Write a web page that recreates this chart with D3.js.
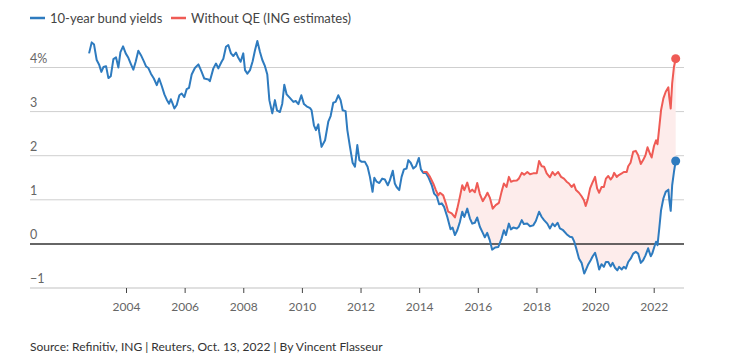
<!DOCTYPE html>
<html>
<head>
<meta charset="utf-8">
<script src="https://cdn.jsdelivr.net/npm/d3@7"></script>
<style>
  html, body { margin: 0; padding: 0; background: #fff; }
  #vizHolder { width: 734px; height: 362px; }
  text { font-family: Lato, "Noto Sans", sans-serif; }
</style>
</head>
<body>
<div id="vizHolder"></div>
<script>
// 10-year bund yields (decimal year, %)
var bundYears = [2002.74, 2002.83, 2002.91, 2003.00, 2003.08, 2003.16, 2003.23, 2003.32, 2003.40, 2003.48,
	2003.57, 2003.66, 2003.74, 2003.81, 2003.90, 2003.99, 2004.08, 2004.16, 2004.25, 2004.33,
	2004.42, 2004.51, 2004.61, 2004.68, 2004.76, 2004.85, 2004.95, 2005.05, 2005.13, 2005.22,
	2005.31, 2005.39, 2005.47, 2005.53, 2005.59, 2005.65, 2005.73, 2005.82, 2005.90, 2005.99,
	2006.07, 2006.15, 2006.24, 2006.35, 2006.47, 2006.58, 2006.67, 2006.81, 2006.86, 2006.98,
	2007.07, 2007.15, 2007.26, 2007.32, 2007.41, 2007.49, 2007.58, 2007.66, 2007.75, 2007.83,
	2007.91, 2008.00, 2008.06, 2008.14, 2008.23, 2008.32, 2008.40, 2008.48, 2008.57, 2008.65,
	2008.74, 2008.82, 2008.89, 2008.99, 2009.08, 2009.15, 2009.25, 2009.33, 2009.40, 2009.48,
	2009.59, 2009.71, 2009.79, 2009.88, 2009.98, 2010.07, 2010.16, 2010.28, 2010.33, 2010.41,
	2010.48, 2010.56, 2010.59, 2010.67, 2010.79, 2010.90, 2010.98, 2011.07, 2011.15, 2011.24,
	2011.32, 2011.39, 2011.49, 2011.55, 2011.64, 2011.73, 2011.81, 2011.89, 2011.96, 2012.04,
	2012.15, 2012.24, 2012.32, 2012.41, 2012.47, 2012.55, 2012.64, 2012.74, 2012.83, 2012.93,
	2013.00, 2013.10, 2013.17, 2013.23, 2013.32, 2013.40, 2013.48, 2013.57, 2013.63, 2013.71,
	2013.80, 2013.89, 2013.99, 2014.06, 2014.14, 2014.23, 2014.31, 2014.43, 2014.51, 2014.60,
	2014.68, 2014.77, 2014.85, 2014.96, 2015.07, 2015.14, 2015.22, 2015.30, 2015.39, 2015.47,
	2015.54, 2015.64, 2015.73, 2015.81, 2015.90, 2015.98, 2016.07, 2016.17, 2016.24, 2016.32,
	2016.41, 2016.49, 2016.59, 2016.70, 2016.81, 2016.89, 2016.96, 2017.06, 2017.13, 2017.21,
	2017.33, 2017.40, 2017.50, 2017.57, 2017.69, 2017.78, 2017.89, 2017.98, 2018.09, 2018.18,
	2018.26, 2018.37, 2018.46, 2018.55, 2018.63, 2018.72, 2018.80, 2018.91, 2019.03, 2019.14,
	2019.22, 2019.29, 2019.37, 2019.45, 2019.54, 2019.63, 2019.68, 2019.77, 2019.85, 2019.92,
	2020.00, 2020.07, 2020.14, 2020.22, 2020.30, 2020.37, 2020.45, 2020.53, 2020.60, 2020.68,
	2020.76, 2020.82, 2020.91, 2020.98, 2021.05, 2021.13, 2021.22, 2021.30, 2021.39, 2021.47,
	2021.56, 2021.64, 2021.72, 2021.81, 2021.90, 2021.95, 2022.02, 2022.08, 2022.13, 2022.19,
	2022.25, 2022.33, 2022.41, 2022.50, 2022.53, 2022.58, 2022.63, 2022.69, 2022.75];
var bundYields = [4.32, 4.57, 4.52, 4.17, 4.07, 3.90, 4.01, 4.03, 3.76, 3.80,
	4.19, 4.23, 4.00, 4.35, 4.48, 4.32, 4.22, 4.09, 3.95, 4.13,
	4.38, 4.28, 4.14, 4.03, 3.99, 3.86, 3.75, 3.60, 3.75, 3.58,
	3.39, 3.27, 3.18, 3.28, 3.18, 3.07, 3.15, 3.37, 3.41, 3.33,
	3.51, 3.54, 3.84, 3.99, 4.07, 3.90, 3.75, 3.73, 3.69, 3.98,
	4.09, 3.98, 4.13, 4.20, 4.47, 4.51, 4.32, 4.26, 4.34, 4.22,
	4.13, 4.32, 3.94, 3.86, 3.94, 4.14, 4.39, 4.60, 4.35, 4.17,
	4.03, 3.84, 3.26, 2.96, 3.26, 3.03, 2.99, 3.18, 3.61, 3.39,
	3.31, 3.22, 3.24, 3.17, 3.37, 3.17, 3.12, 3.08, 3.03, 2.69,
	2.58, 2.71, 2.54, 2.20, 2.35, 2.77, 2.90, 3.20, 3.22, 3.37,
	3.26, 3.03, 3.01, 2.58, 2.20, 1.84, 1.75, 2.24, 1.90, 1.86,
	1.86, 1.75, 1.52, 1.18, 1.50, 1.41, 1.38, 1.48, 1.46, 1.33,
	1.44, 1.66, 1.37, 1.29, 1.22, 1.52, 1.69, 1.71, 1.90, 1.84,
	1.71, 1.76, 1.95, 1.69, 1.61, 1.61, 1.52, 1.33, 1.14, 1.08,
	0.90, 0.92, 0.84, 0.61, 0.33, 0.37, 0.20, 0.31, 0.50, 0.73,
	0.61, 0.80, 0.58, 0.46, 0.48, 0.60, 0.39, 0.25, 0.15, 0.25,
	0.08, -0.13, -0.08, -0.07, 0.12, 0.31, 0.20, 0.46, 0.33, 0.37,
	0.35, 0.39, 0.54, 0.45, 0.46, 0.40, 0.42, 0.52, 0.73, 0.61,
	0.54, 0.46, 0.35, 0.46, 0.40, 0.48, 0.35, 0.31, 0.22, 0.16,
	0.15, 0.05, -0.13, -0.33, -0.43, -0.67, -0.60, -0.46, -0.37, -0.28,
	-0.20, -0.37, -0.58, -0.46, -0.52, -0.41, -0.41, -0.51, -0.43, -0.54,
	-0.60, -0.52, -0.58, -0.52, -0.56, -0.41, -0.33, -0.22, -0.18, -0.22,
	-0.43, -0.37, -0.26, -0.10, -0.28, -0.22, -0.07, 0.05, -0.03, 0.35,
	0.76, 1.03, 1.18, 1.23, 1.01, 0.75, 1.33, 1.63, 1.88];

// Without QE (ING estimates)
var noQeYears = [2014.14, 2014.26, 2014.37, 2014.48, 2014.57, 2014.65, 2014.71, 2014.82, 2014.91, 2014.99,
	2015.11, 2015.22, 2015.30, 2015.39, 2015.47, 2015.54, 2015.64, 2015.73, 2015.81, 2015.90,
	2015.98, 2016.07, 2016.17, 2016.27, 2016.33, 2016.41, 2016.51, 2016.61, 2016.72, 2016.81,
	2016.89, 2016.98, 2017.06, 2017.13, 2017.21, 2017.33, 2017.40, 2017.50, 2017.58, 2017.69,
	2017.78, 2017.89, 2018.01, 2018.09, 2018.18, 2018.26, 2018.35, 2018.46, 2018.55, 2018.63,
	2018.74, 2018.84, 2018.94, 2019.03, 2019.11, 2019.20, 2019.28, 2019.35, 2019.45, 2019.54,
	2019.62, 2019.68, 2019.75, 2019.83, 2019.90, 2020.00, 2020.07, 2020.14, 2020.22, 2020.30,
	2020.37, 2020.45, 2020.53, 2020.60, 2020.65, 2020.74, 2020.81, 2020.91, 2020.98, 2021.08,
	2021.13, 2021.21, 2021.30, 2021.39, 2021.47, 2021.56, 2021.64, 2021.72, 2021.79, 2021.87,
	2021.93, 2022.01, 2022.08, 2022.13, 2022.19, 2022.25, 2022.33, 2022.41, 2022.50, 2022.53,
	2022.58, 2022.63, 2022.69, 2022.75];
var noQeYields = [1.63, 1.63, 1.52, 1.37, 1.22, 1.10, 1.16, 1.10, 0.92, 0.73,
	0.69, 0.60, 0.80, 1.07, 1.33, 1.22, 1.39, 1.18, 1.23, 1.17,
	1.38, 1.13, 0.97, 1.08, 1.16, 1.05, 0.80, 0.88, 0.93, 1.18,
	1.37, 1.29, 1.52, 1.41, 1.43, 1.44, 1.48, 1.61, 1.57, 1.63,
	1.58, 1.60, 1.60, 1.88, 1.76, 1.75, 1.60, 1.51, 1.63, 1.56,
	1.63, 1.52, 1.48, 1.41, 1.37, 1.29, 1.35, 1.22, 1.16, 1.08,
	0.99, 0.86, 1.01, 1.26, 1.37, 1.52, 1.26, 1.16, 1.29, 1.29,
	1.48, 1.54, 1.46, 1.52, 1.61, 1.52, 1.56, 1.60, 1.63, 1.63,
	1.76, 1.84, 2.09, 2.11, 2.01, 1.81, 1.90, 2.01, 2.19, 2.05,
	1.96, 2.22, 2.35, 2.26, 2.64, 3.03, 3.30, 3.45, 3.55, 3.33,
	3.07, 3.64, 4.01, 4.20];

var xTickYears = [2004, 2006, 2008, 2010, 2012, 2014, 2016, 2018, 2020, 2022];
var yTickValues = [-1, 0, 1, 2, 3, 4];
var yTickLabels = ['\u22121', '0', '1', '2', '3', '4%'];
var seriesNames = ['10-year bund yields', 'Without QE (ING estimates)'];
var seriesColors = ['#2e7bbf', '#ef5b55'];

var vizHolder = document.querySelector('#vizHolder'),
	width = 734,
	height = 362,
	plotLeft = 30,
	plotRight = 684;

var bund = bundYears.map(function(d, i) { return { x: d, y: bundYields[i] }; });
var noQe = noQeYears.map(function(d, i) { return { x: d, y: noQeYields[i] }; });

// 2004 sits at x=126, 2022 at x=653.7
var pxPerYear = (653.7 - 126) / 18;
var xScale = d3.scaleLinear()
	.domain([2004 - (126 - plotLeft) / pxPerYear, 2022 + (plotRight - 653.7) / pxPerYear])
	.range([plotLeft, plotRight]);

var yScale = d3.scaleLinear()
	.domain([-1, 4])
	.range([288, 67.5]);

var svg = d3.select(vizHolder)
	.append('svg')
	.attr('width', width)
	.attr('height', height);

// gridlines
svg.append('g')
	.selectAll('line')
	.data(yTickValues.filter(function(d) { return d > -1 && d !== 0; }))
	.enter()
	.append('line')
	.attr('x1', plotLeft)
	.attr('x2', plotRight)
	.attr('y1', function(d) { return yScale(d); })
	.attr('y2', function(d) { return yScale(d); })
	.attr('stroke', '#cfcfcf')
	.attr('stroke-width', 1);

// y labels
svg.append('g')
	.selectAll('text')
	.data(yTickValues)
	.enter()
	.append('text')
	.attr('x', plotLeft)
	.attr('y', function(d) { return yScale(d) - 5; })
	.attr('fill', '#666')
	.attr('font-size', 12.5)
	.text(function(d, i) { return yTickLabels[i]; });

// bottom axis
svg.append('line')
	.attr('x1', plotLeft)
	.attr('x2', plotRight)
	.attr('y1', yScale(-1))
	.attr('y2', yScale(-1))
	.attr('stroke', '#e0e0e0')
	.attr('stroke-width', 2);

var xAxis = svg.append('g')
	.attr('transform', 'translate(0,' + yScale(-1) + ')')
	.call(d3.axisBottom(xScale).tickValues(xTickYears).tickFormat(d3.format('d')).tickSize(5).tickPadding(9));
xAxis.select('.domain').remove();
xAxis.selectAll('.tick line').attr('stroke', '#444');
xAxis.selectAll('.tick text')
	.attr('fill', '#666')
	.attr('font-size', 12)
	.style('font-family', 'Lato, "Noto Sans", sans-serif');

// shaded gap between the two series
var gapPoints = noQe.concat(bund.filter(function(d) { return d.x >= noQeYears[0]; }).reverse());
var line = d3.line()
	.x(function(d) { return xScale(d.x); })
	.y(function(d) { return yScale(d.y); });

svg.append('path')
	.datum(gapPoints)
	.attr('d', function(d) { return line(d) + 'Z'; })
	.attr('fill', '#fdeceb')
	.attr('stroke', 'none');

// zero line
svg.append('line')
	.attr('x1', plotLeft)
	.attr('x2', plotRight)
	.attr('y1', yScale(0))
	.attr('y2', yScale(0))
	.attr('stroke', '#333')
	.attr('stroke-width', 1.5);

[bund, noQe].forEach(function(series, i) {
	svg.append('path')
		.datum(series)
		.attr('d', line)
		.attr('fill', 'none')
		.attr('stroke', seriesColors[i])
		.attr('stroke-width', 2)
		.attr('stroke-linejoin', 'round');

	var last = series[series.length - 1];
	svg.append('circle')
		.attr('cx', xScale(last.x))
		.attr('cy', yScale(last.y))
		.attr('r', 4.5)
		.attr('fill', seriesColors[i]);
});

// legend
var legendX = [30, 171];
var legend = svg.append('g');
seriesNames.forEach(function(name, i) {
	legend.append('line')
		.attr('x1', legendX[i])
		.attr('x2', legendX[i] + 15)
		.attr('y1', 18)
		.attr('y2', 18)
		.attr('stroke', seriesColors[i])
		.attr('stroke-width', 2.5);
	legend.append('text')
		.attr('x', legendX[i] + 20)
		.attr('y', 22.5)
		.attr('fill', '#444')
		.attr('font-size', 13)
		.text(name);
});

// source
svg.append('text')
	.attr('x', 30)
	.attr('y', 351)
	.attr('fill', '#333')
	.attr('font-size', 12)
	.text('Source: Refinitiv, ING | Reuters, Oct. 13, 2022 | By Vincent Flasseur');
</script>
</body>
</html>
